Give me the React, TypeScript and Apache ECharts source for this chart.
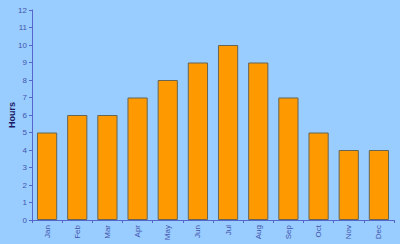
import React, { useEffect, useRef } from "react";
import * as echarts from "echarts";

const months = ["Jan", "Feb", "Mar", "Apr", "May", "Jun", "Jul", "Aug", "Sep", "Oct", "Nov", "Dec"];
const hours = [5, 6, 6, 7, 8, 9, 10, 9, 7, 5, 4, 4];
const yTicks = { min: 0, max: 12, interval: 1 };

export default function App() {
  const ref = useRef<HTMLDivElement>(null);
  useEffect(() => {
    const chart = echarts.init(ref.current!, null, { renderer: "svg" });
    chart.setOption({
      animation: false,
      backgroundColor: "#99ccff",
      textStyle: { fontFamily: "Liberation Sans, Arial, sans-serif" },
      grid: { left: 32, right: 6, top: 10, bottom: 24, containLabel: false, outerBoundsMode: "none" },
      xAxis: {
        type: "category",
        data: months,
        boundaryGap: true,
        axisLine: { lineStyle: { color: "#5566cc", width: 1 } },
        axisTick: { show: true, length: 3, alignWithLabel: false, lineStyle: { color: "#5566cc" } },
        axisLabel: { rotate: 90, color: "#4455aa", fontSize: 8, margin: 5 },
      },
      yAxis: {
        type: "value",
        min: yTicks.min,
        max: yTicks.max,
        interval: yTicks.interval,
        name: "Hours",
        nameLocation: "middle",
        nameRotate: 90,
        nameGap: 16,
        nameMoveOverlap: false,
        nameTextStyle: { color: "#1a1a66", fontSize: 9, fontWeight: "bold" },
        axisLine: { show: true, lineStyle: { color: "#5566cc", width: 1 } },
        axisTick: { show: true, length: 3, lineStyle: { color: "#5566cc" } },
        axisLabel: { color: "#4455aa", fontSize: 8, margin: 5 },
        splitLine: { show: false },
      },
      series: [
        {
          type: "bar",
          data: hours,
          barCategoryGap: "33%",
          itemStyle: { color: "#ff9900", borderColor: "#666655", borderWidth: 1 },
        },
      ],
    });
    return () => chart.dispose();
  }, []);
  return <div ref={ref} style={{ position: "absolute", left: 0, top: 0, width: 400, height: 244 }} />;
}
